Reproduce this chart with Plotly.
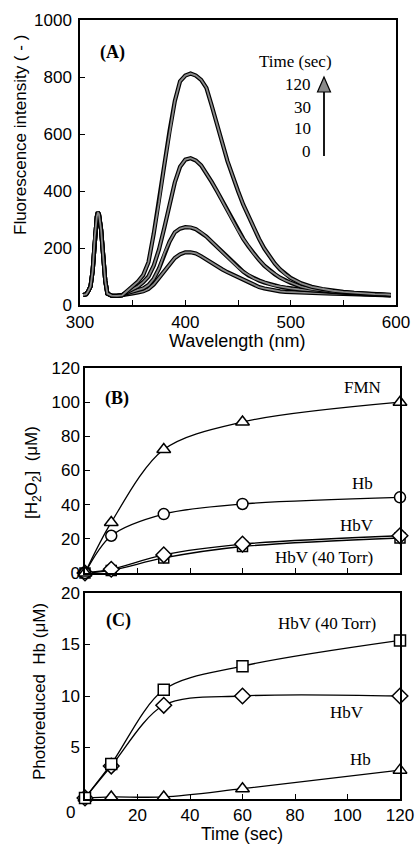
import plotly.graph_objects as go

W, H = 417, 845

# ---------------- Panel A: fluorescence spectra ----------------
wavelength = [303, 306, 308, 310, 312, 314, 316, 317, 318, 320, 322, 324, 326, 330, 335, 340,
              345, 350, 355, 360, 365, 370, 375, 380, 385, 390, 395, 400, 405, 410, 415, 420,
              425, 430, 435, 440, 445, 450, 455, 460, 465, 470, 475, 480, 485, 490, 495, 500,
              510, 520, 530, 540, 550, 560, 570, 580, 590, 595]
scatter_peak = [35, 38, 50, 65, 120, 240, 310, 325, 318, 265, 170, 85, 40, 33, 32, 34]
fl_t120 = scatter_peak + [50, 65, 82, 105, 150, 250, 360, 490, 610, 715, 785, 805, 812, 805, 790, 762,
                          700, 630, 570, 505, 450, 400, 352, 310, 268, 232, 198, 170, 145, 125, 108, 95,
                          76, 64, 56, 50, 46, 43, 40, 38, 37, 36]
fl_t30 = scatter_peak + [46, 55, 65, 80, 100, 138, 195, 270, 355, 430, 485, 510, 515, 507, 490, 463,
                         432, 400, 365, 330, 295, 262, 232, 205, 180, 158, 138, 122, 108, 96, 86, 78,
                         64, 56, 51, 47, 44, 41, 39, 37, 36, 35]
fl_t10 = scatter_peak + [42, 47, 52, 58, 70, 92, 128, 180, 222, 255, 268, 273, 272, 266, 254, 240,
                         222, 204, 186, 167, 149, 132, 117, 104, 94, 86, 79, 73, 68, 64, 61, 58,
                         54, 51, 48, 45, 43, 40, 38, 37, 35, 34]
fl_t0 = scatter_peak + [38, 41, 44, 48, 56, 72, 95, 118, 143, 165, 178, 185, 185, 181, 171, 159,
                        146, 135, 125, 115, 106, 97, 89, 80, 71, 63, 58, 54, 51, 48, 46, 45,
                        43, 42, 41, 40, 39, 38, 37, 36, 35, 34]
spectra = [fl_t0, fl_t10, fl_t30, fl_t120]
time_labels = ["120", "30", "10", "0"]

# ---------------- Panels B and C ----------------
time_s = [0, 10, 30, 60, 120]
h2o2_fmn = [0, 29.6, 72.3, 88.4, 100]
h2o2_hb = [0, 21.8, 34.5, 40.4, 44.3]
h2o2_hbv = [0, 2.2, 10.6, 16.9, 21.8]
h2o2_hbv40 = [0, 1.5, 8.8, 15.5, 20.5]

red_hbv40 = [0.1, 3.4, 10.6, 12.9, 15.4]
red_hbv = [0.1, 3.2, 9.1, 10.0, 10.0]
red_hb = [0.1, 0.2, 0.2, 1.0, 2.8]

SANS = "Liberation Sans"
SERIF = "Liberation Serif"


def px(x):
    return x / W


def py(y):
    return 1 - y / H


fig = go.Figure()

# Panel A curves: black outline + grey core
for ys in spectra:
    fig.add_trace(go.Scatter(x=wavelength, y=ys, mode="lines", xaxis="x", yaxis="y",
                             line=dict(color="black", width=4.2), hoverinfo="skip"))
    fig.add_trace(go.Scatter(x=wavelength, y=ys, mode="lines", xaxis="x", yaxis="y",
                             line=dict(color="#8a8a8a", width=1.8), hoverinfo="skip"))


def series(x, y, symbol, xa, ya, size=11):
    fig.add_trace(go.Scatter(
        x=x, y=y, mode="lines+markers", xaxis=xa, yaxis=ya, cliponaxis=False,
        line=dict(color="black", width=1.3, shape="spline", smoothing=0.9),
        marker=dict(symbol=symbol, size=size, color="white",
                    line=dict(color="black", width=1.5))))


# Panel B
series(time_s, h2o2_hbv40, "square", "x2", "y2", 10)
series(time_s, h2o2_hbv, "diamond", "x2", "y2", 12)
series(time_s, h2o2_hb, "circle", "x2", "y2", 11)
series(time_s, h2o2_fmn, "triangle-up", "x2", "y2", 12)

# Panel C
series(time_s, red_hb, "triangle-up", "x3", "y3", 12)
series(time_s, red_hbv, "diamond", "x3", "y3", 12)
series(time_s, red_hbv40, "square", "x3", "y3", 11)

axis_common = dict(showline=True, mirror=True, linecolor="black", linewidth=1.5,
                   showgrid=False, zeroline=False, ticks="inside", ticklen=5,
                   tickcolor="black", tickwidth=1.2, automargin=False,
                   tickfont=dict(family=SANS, size=17, color="black"))

wl_ticks = [300, 350, 400, 450, 500, 550, 600]
wl_text = ["300", " ", "400", " ", "500", " ", "600"]
t_ticks = [0, 20, 40, 60, 80, 100, 120]

fig.update_layout(
    width=W, height=H,
    margin=dict(l=0, r=0, t=0, b=0, autoexpand=False),
    paper_bgcolor="white", plot_bgcolor="white",
    showlegend=False, hovermode=False,
    xaxis=dict(axis_common, domain=[px(80), px(396)], anchor="y", range=[300, 600],
               tickvals=wl_ticks, ticktext=wl_text, ticklabelstandoff=1),
    yaxis=dict(axis_common, domain=[py(305), py(20)], anchor="x", range=[0, 1000],
               tickvals=[0, 200, 400, 600, 800, 1000], ticklabelstandoff=3),
    xaxis2=dict(axis_common, domain=[px(85), px(400)], anchor="y2", range=[0, 120],
                tickvals=t_ticks, showticklabels=False),
    yaxis2=dict(axis_common, domain=[py(573), py(368)], anchor="x2", range=[0, 120],
                tickvals=[0, 20, 40, 60, 80, 100, 120]),
    xaxis3=dict(axis_common, domain=[px(85), px(400)], anchor="y3", range=[0, 120],
                tickvals=t_ticks[1:], ticklabelstandoff=0),
    yaxis3=dict(axis_common, domain=[py(799), py(593)], anchor="x3", range=[0, 20],
                tickvals=[5, 10, 15, 20]),
)


def note(text, x, y, family=SERIF, size=17, xanchor="center", angle=0, bold=False):
    if bold:
        text = "<b>" + text + "</b>"
    fig.add_annotation(text=text, x=px(x), y=py(y), xref="paper", yref="paper",
                       xanchor=xanchor, yanchor="middle", showarrow=False,
                       textangle=angle, font=dict(family=family, size=size, color="black"))


# Panel A texts
note("(A)", 113, 53, size=18, bold=True)
note("Time (sec)", 295, 62)
for lab, yy in zip(time_labels, [85, 107, 129, 152]):
    note(lab, 313, yy, xanchor="right")
note("Fluorescence intensity ( - )", 20, 135, family=SANS, size=17, angle=-90)
note("Wavelength (nm)", 237, 341, family=SANS, size=18)

# Arrow in panel A
fig.add_shape(type="line", xref="paper", yref="paper",
              x0=px(324), x1=px(324), y0=py(156), y1=py(90),
              line=dict(color="black", width=1.8))
fig.add_shape(type="path", xref="paper", yref="paper",
              path=f"M {px(324)},{py(77)} L {px(317.5)},{py(92)} L {px(330.5)},{py(92)} Z",
              fillcolor="#8a8a8a", line=dict(color="black", width=1.2))

# Panel B texts
note("(B)", 117, 398, size=18, bold=True)
note("FMN", 362, 387)
note("Hb", 362, 483)
note("HbV", 357, 525)
note("HbV (40 Torr)", 324, 557)
note("[H<sub>2</sub>O<sub>2</sub>]  (μM)", 33, 473, family=SANS, size=17, angle=-90)

# Panel C texts
note("(C)", 118, 620, size=18, bold=True)
note("HbV (40 Torr)", 327, 623)
note("HbV", 347, 712)
note("Hb", 360, 759)
note("0", 70, 812, family=SANS, size=17)
note("Photoreduced  Hb (μM)", 39, 692, family=SANS, size=17, angle=-90)
note("Time (sec)", 242, 834, family=SANS, size=17.5)

fig.write_html("out.html", config={"displayModeBar": False},
               post_script="document.body.style.margin='0';document.body.style.overflow='hidden';")
